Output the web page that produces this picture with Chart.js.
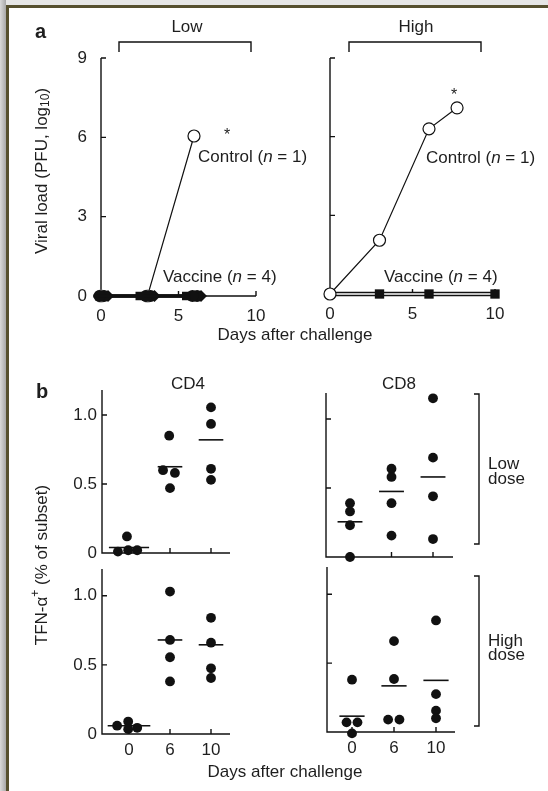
<!DOCTYPE html>
<html>
<head>
<meta charset="utf-8">
<script src="https://cdn.jsdelivr.net/npm/chart.js@4.4.1/dist/chart.umd.min.js"></script>
<style>
  html, body { margin: 0; padding: 0; background: #fff; }
  #page { position: relative; width: 548px; height: 791px; overflow: hidden; background: #fff; }
  #page canvas { position: absolute; left: 0; top: 0; }
  .band { position: absolute; }
</style>
</head>
<body>
<div id="page">
  <canvas id="aLow" width="548" height="791"></canvas>
  <canvas id="aHigh" width="548" height="791"></canvas>
  <canvas id="bCd4Low" width="548" height="791"></canvas>
  <canvas id="bCd8Low" width="548" height="791"></canvas>
  <canvas id="bCd4High" width="548" height="791"></canvas>
  <canvas id="bCd8High" width="548" height="791"></canvas>
  <div class="band" style="left:0;top:0;width:548px;height:5px;background:#e6e6e6"></div>
  <div class="band" style="left:0;top:0;width:6px;height:791px;background:linear-gradient(to right,#dadada,#a8a8a8)"></div>
  <div class="band" style="left:6px;top:5px;width:542px;height:3px;background:#56502f"></div>
  <div class="band" style="left:6px;top:5px;width:3px;height:786px;background:#56502f"></div>
</div>
<script>
// panel a: viral load, log10 PFU, by day after challenge
const lowDays = [0, 3, 6];
const lowControl = [0, 0, 6.05];
const lowVaccine = [[0, 0, 0], [0, 0, 0], [0, 0, 0], [0, 0, 0]];
const highControlDays = [0, 3, 6, 7.7];
const highControl = [0, 2.05, 6.3, 7.1];
const highVaccineDays = [0, 3, 6, 10];
const highVaccine = [0, 0, 0, 0];
const loadTicks = [0, 3, 6, 9];
const dayTicks = [0, 5, 10];

// panel b: TFN-a+ (% of subset), 4 animals per day
const dayLabels = ['0', '6', '10'];
const cd4Low = [[0.01, 0.12, 0.02, 0.02], [0.85, 0.60, 0.58, 0.47], [1.055, 0.935, 0.61, 0.53]];
const cd4LowMean = [0.04, 0.625, 0.82];
const cd8Low = [[0.39, 0.33, 0.23, 0.0], [0.64, 0.58, 0.39, 0.155], [1.15, 0.72, 0.44, 0.13]];
const cd8LowMean = [0.255, 0.475, 0.58];
const cd4High = [[0.06, 0.09, 0.035, 0.045], [1.03, 0.68, 0.555, 0.38], [0.84, 0.66, 0.475, 0.405]];
const cd4HighMean = [0.06, 0.68, 0.645];
const cd8High = [[0.38, 0.07, 0.07, -0.01], [0.66, 0.385, 0.09, 0.09], [0.81, 0.275, 0.155, 0.10]];
const cd8HighMean = [0.115, 0.335, 0.375];
const pctTicks = [0, 0.5, 1.0];
const pctTickLabels = ['0', '0.5', '1.0'];

// layout only: horizontal spread of overlapping markers
const lowVaccineJitter = [-0.5, -0.1, 0.2, 0.45];
const lowVaccineStyles = ['rect', 'circle', 'circle', 'rectRot'];
const cd4LowJitter = [[-0.27, -0.05, -0.02, 0.2], [-0.02, -0.17, 0.12, 0], [0, 0, 0, 0]];
const cd4HighJitter = [[-0.29, -0.02, -0.02, 0.2], [0, 0, 0, 0], [0, 0, 0, 0]];
const cd8LowJitter = [[0, 0, 0, 0], [0, 0, 0, 0], [0, 0, 0, 0]];
const cd8HighJitter = [[0, -0.13, 0.13, 0], [0, 0, -0.14, 0.13], [0, 0, 0, 0]];

const W = 548, H = 791;
const INK = '#111';
const TXT = '#1e1e1e';
const FAM = '"Liberation Sans", Arial, sans-serif';
const FONT = '17px ' + FAM;

const axesPlugin = {
  id: 'axes',
  beforeDatasetsDraw(chart, args, o) {
    const ctx = chart.ctx, xs = chart.scales.x, ys = chart.scales.y;
    const { left, right, top, bottom } = chart.chartArea;
    ctx.save();
    ctx.strokeStyle = INK;
    ctx.lineWidth = 1.4;
    ctx.beginPath();
    ctx.moveTo(left, top);
    ctx.lineTo(left, bottom);
    ctx.lineTo(right, bottom);
    ctx.stroke();
    ctx.beginPath();
    o.yTicks.forEach(v => {
      const y = ys.getPixelForValue(v);
      ctx.moveTo(left, y); ctx.lineTo(left + o.tick, y);
    });
    o.xTicks.forEach(v => {
      const x = xs.getPixelForValue(v);
      ctx.moveTo(x, bottom); ctx.lineTo(x, bottom - o.tick);
    });
    ctx.stroke();
    ctx.fillStyle = TXT;
    ctx.font = FONT;
    ctx.textBaseline = 'middle';
    if (o.yLabels) {
      ctx.textAlign = 'right';
      o.yLabels.values.forEach((v, i) => ctx.fillText(o.yLabels.text[i], left - o.yGap, ys.getPixelForValue(v)));
    }
    if (o.xLabels) {
      ctx.textAlign = 'center';
      o.xLabels.values.forEach((v, i) => ctx.fillText(o.xLabels.text[i], xs.getPixelForValue(v), bottom + o.xGap));
    }
    ctx.restore();
  }
};

function rich(ctx, parts, x, y, align) {
  const widths = parts.map(p => { ctx.font = p.f; return ctx.measureText(p.t).width; });
  const total = widths.reduce((a, b) => a + b, 0);
  let cx = align === 'center' ? x - total / 2 : x;
  ctx.textAlign = 'left';
  parts.forEach((p, i) => { ctx.font = p.f; ctx.fillText(p.t, cx, y + (p.dy || 0)); cx += widths[i]; });
}

const textPlugin = {
  id: 'texts',
  afterDraw(chart) {
    const ctx = chart.ctx;
    const small = '12px ' + FAM;
    const ital = 'italic ' + FONT;
    ctx.save();
    ctx.fillStyle = TXT;
    ctx.strokeStyle = INK;
    ctx.lineWidth = 1.4;
    ctx.textBaseline = 'middle';

    // panel letters
    ctx.font = 'bold 20px ' + FAM;
    ctx.textAlign = 'left';
    ctx.fillText('a', 35, 32);
    ctx.fillText('b', 36, 392);

    // dose brackets over panel a
    ctx.font = FONT;
    ctx.textAlign = 'center';
    ctx.fillText('Low', 187, 27);
    ctx.fillText('High', 416, 27);
    ctx.beginPath();
    ctx.moveTo(119, 52); ctx.lineTo(119, 42); ctx.lineTo(251, 42); ctx.lineTo(251, 52);
    ctx.moveTo(349, 52); ctx.lineTo(349, 42); ctx.lineTo(481, 42); ctx.lineTo(481, 52);
    ctx.stroke();

    // series labels
    rich(ctx, [{ t: 'Control (', f: FONT }, { t: 'n', f: ital }, { t: ' = 1)', f: FONT }], 198, 157);
    rich(ctx, [{ t: 'Control (', f: FONT }, { t: 'n', f: ital }, { t: ' = 1)', f: FONT }], 426, 158);
    rich(ctx, [{ t: 'Vaccine (', f: FONT }, { t: 'n', f: ital }, { t: ' = 4)', f: FONT }], 163, 277);
    rich(ctx, [{ t: 'Vaccine (', f: FONT }, { t: 'n', f: ital }, { t: ' = 4)', f: FONT }], 384, 277);

    ctx.font = '16px ' + FAM;
    ctx.textAlign = 'center';
    ctx.textBaseline = 'alphabetic';
    ctx.fillText('*', 227, 140);
    ctx.fillText('*', 454, 100);
    ctx.textBaseline = 'middle';

    // x titles
    ctx.font = FONT;
    ctx.fillText('Days after challenge', 295, 335);
    ctx.fillText('Days after challenge', 285, 772);

    // subset titles
    ctx.fillText('CD4', 188, 384);
    ctx.fillText('CD8', 399, 384);

    // dose brackets beside panel b
    ctx.beginPath();
    ctx.moveTo(474, 394); ctx.lineTo(479, 394); ctx.lineTo(479, 544); ctx.lineTo(474, 544);
    ctx.moveTo(474, 576); ctx.lineTo(479, 576); ctx.lineTo(479, 726); ctx.lineTo(474, 726);
    ctx.stroke();
    ctx.textAlign = 'left';
    ctx.fillText('Low', 488, 464);
    ctx.fillText('dose', 488, 479);
    ctx.fillText('High', 488, 641);
    ctx.fillText('dose', 488, 655);

    // y titles
    ctx.save();
    ctx.translate(42, 171);
    ctx.rotate(-Math.PI / 2);
    rich(ctx, [{ t: 'Viral load (PFU, log', f: FONT }, { t: '10', f: small, dy: 4 }, { t: ')', f: FONT }], 0, 0, 'center');
    ctx.restore();
    ctx.save();
    ctx.translate(42, 565);
    ctx.rotate(-Math.PI / 2);
    rich(ctx, [{ t: 'TFN-\u03b1', f: FONT }, { t: '+', f: small, dy: -6 }, { t: ' (% of subset)', f: FONT }], 0, 0, 'center');
    ctx.restore();

    ctx.restore();
  }
};

function makeChart(id, area, xr, yr, datasets, axes, extra) {
  return new Chart(document.getElementById(id), {
    type: 'scatter',
    data: { datasets },
    options: {
      responsive: false,
      animation: false,
      events: [],
      layout: { autoPadding: false, padding: { left: area.l, right: W - area.r, top: area.t, bottom: H - area.b } },
      scales: {
        x: { type: 'linear', display: false, min: xr[0], max: xr[1] },
        y: { type: 'linear', display: false, min: yr[0], max: yr[1] }
      },
      plugins: { legend: { display: false }, tooltip: { enabled: false }, axes }
    },
    plugins: extra ? [axesPlugin, extra] : [axesPlugin]
  });
}

const pts = (xs, ys, dx) => ys.map((y, i) => ({ x: xs[i] + (dx || 0), y }));

function openCircles(xs, ys, order, edge) {
  return {
    data: pts(xs, ys), showLine: true, clip: false, order,
    borderColor: INK, borderWidth: 1.2,
    pointStyle: 'circle', pointRadius: 6, pointBackgroundColor: '#fff',
    pointBorderColor: edge || INK, pointBorderWidth: 1.2
  };
}

// panel a, low dose
const aLowSets = [openCircles(lowDays, lowControl, 5, ctx => ctx.dataIndex < 2 ? '#777' : INK)];
lowVaccine.forEach((vals, k) => {
  aLowSets.push({
    data: pts(lowDays, vals, lowVaccineJitter[k]), showLine: true, clip: false, order: 1,
    borderColor: INK, borderWidth: 3.2,
    pointStyle: lowVaccineStyles[k], pointRadius: 6,
    pointBackgroundColor: INK, pointBorderColor: INK, pointBorderWidth: 0
  });
});
makeChart('aLow', { l: 101, r: 256, t: 58, b: 296 }, [0, 10], [0, 9], aLowSets, {
  tick: 5, yTicks: [3, 6, 9], xTicks: [5, 10],
  yLabels: { values: loadTicks, text: loadTicks.map(String) }, yGap: 14,
  xLabels: { values: dayTicks, text: dayTicks.map(String) }, xGap: 20
});

// panel a, high dose
makeChart('aHigh', { l: 330, r: 495, t: 58, b: 294 }, [0, 10], [0, 9], [
  openCircles(highControlDays, highControl, 1),
  { data: pts(highVaccineDays, highVaccine), showLine: true, clip: false, order: 4,
    borderColor: INK, borderWidth: 4.6, pointRadius: 0 },
  { data: pts(highVaccineDays, highVaccine), showLine: true, clip: false, order: 3,
    borderColor: '#fff', borderWidth: 1.3, pointRadius: 0 },
  { data: pts(highVaccineDays, highVaccine), showLine: false, clip: false, order: 2,
    pointStyle: 'rect', pointRadius: ctx => ctx.dataIndex === 0 ? 0 : 6.6,
    pointBackgroundColor: INK, pointBorderColor: INK, pointBorderWidth: 0 }
], {
  tick: 5, yTicks: [3, 6, 9], xTicks: [5, 10],
  xLabels: { values: dayTicks, text: dayTicks.map(String) }, xGap: 20
});

// panel b
function dotSets(groups, jitter, means, half) {
  const dots = [];
  groups.forEach((g, i) => g.forEach((v, j) => dots.push({ x: i + jitter[i][j], y: v })));
  const sets = [{
    data: dots, showLine: false, clip: false, order: 1,
    pointStyle: 'circle', pointRadius: 4.9,
    pointBackgroundColor: INK, pointBorderColor: INK, pointBorderWidth: 0
  }];
  means.forEach((m, i) => sets.push({
    data: [{ x: i - half[i], y: m }, { x: i + half[i], y: m }],
    showLine: true, clip: false, order: 2, borderColor: INK, borderWidth: 1.6, pointRadius: 0
  }));
  return sets;
}
// x range so that category centres land under their tick marks
const catRange = (l, r, c0, step) => [(l - c0) / step, (r - c0) / step];

const bx = { tick: 5, yTicks: [0.5, 1.0], xTicks: [0, 1, 2] };
makeChart('bCd4Low', { l: 102, r: 230, t: 390, b: 553 }, catRange(102, 230, 129, 41), [0, 163 / 138],
  dotSets(cd4Low, cd4LowJitter, cd4LowMean, [0.49, 0.3, 0.3]),
  Object.assign({ yLabels: { values: pctTicks, text: pctTickLabels }, yGap: 5 }, bx));
makeChart('bCd8Low', { l: 326, r: 453, t: 393, b: 557 }, catRange(326, 453, 350, 41.5), [0, 164 / 138],
  dotSets(cd8Low, cd8LowJitter, cd8LowMean, [0.3, 0.3, 0.3]), Object.assign({}, bx));
makeChart('bCd4High', { l: 102, r: 230, t: 569, b: 734 }, catRange(102, 230, 129, 41), [0, 165 / 138.3],
  dotSets(cd4High, cd4HighJitter, cd4HighMean, [0.52, 0.3, 0.3]),
  Object.assign({ yLabels: { values: pctTicks, text: pctTickLabels }, yGap: 5,
    xLabels: { values: [0, 1, 2], text: dayLabels }, xGap: 16 }, bx));
makeChart('bCd8High', { l: 327, r: 455, t: 567, b: 732 }, catRange(327, 455, 352, 42), [0, 165 / 137.7],
  dotSets(cd8High, cd8HighJitter, cd8HighMean, [0.3, 0.3, 0.3]),
  Object.assign({ xLabels: { values: [0, 1, 2], text: dayLabels }, xGap: 16 }, bx), textPlugin);
</script>
</body>
</html>
